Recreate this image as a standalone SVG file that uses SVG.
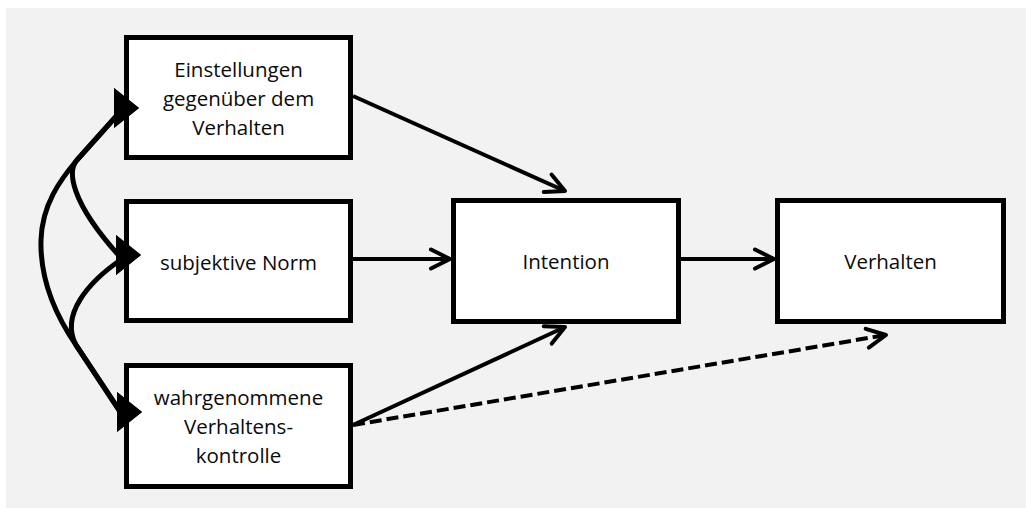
<svg xmlns="http://www.w3.org/2000/svg" width="1026" height="509" viewBox="0 0 1026 509">
  <style>
    .box { fill: #ffffff; stroke: #000000; stroke-width: 5; }
    .lbl { font-family: "Open Sans", "Liberation Sans", sans-serif; font-size: 20.5px; fill: #0a0a0a; text-anchor: middle; }
    .arrow { fill: none; stroke: #000000; stroke-width: 4; }
    .dash { stroke-dasharray: 12 5; }
    .curve { fill: none; stroke: #000000; stroke-width: 5; stroke-linejoin: round; }
  </style>
  <defs>
    <marker id="tri" markerUnits="userSpaceOnUse" orient="0" markerWidth="25" markerHeight="40" viewBox="0 0 25 40" refX="6" refY="24">
      <path d="M0,0 L25,20 L0,40 Z" fill="#000000"/>
    </marker>
    <marker id="chev" markerUnits="userSpaceOnUse" orient="auto" markerWidth="24" markerHeight="24" viewBox="-21 -12 24 24" refX="0" refY="0" overflow="visible">
      <path d="M-19,-9.5 L0,0 L-19,9.5" fill="none" stroke="#000000" stroke-width="4" stroke-linecap="round" stroke-linejoin="round"/>
    </marker>
  </defs>

  <rect x="6" y="8" width="1020" height="500" fill="#f2f2f2"/>

  <g id="node-einstellungen">
    <rect class="box" x="126.5" y="37.5" width="224" height="120"/>
    <text class="lbl" x="238.5" y="77">Einstellungen</text>
    <text class="lbl" x="238.5" y="106">gegenüber dem</text>
    <text class="lbl" x="238.5" y="135">Verhalten</text>
  </g>
  <g id="node-norm">
    <rect class="box" x="126.5" y="201.5" width="224" height="119"/>
    <text class="lbl" x="238.5" y="270">subjektive Norm</text>
  </g>
  <g id="node-kontrolle">
    <rect class="box" x="126.5" y="365.5" width="224" height="121"/>
    <text class="lbl" x="238.5" y="405">wahrgenommene</text>
    <text class="lbl" x="238.5" y="434">Verhaltens-</text>
    <text class="lbl" x="238.5" y="463">kontrolle</text>
  </g>
  <g id="node-intention">
    <rect class="box" x="453.5" y="200.5" width="225" height="121"/>
    <text class="lbl" x="566" y="269">Intention</text>
  </g>
  <g id="node-verhalten">
    <rect class="box" x="777.5" y="200.5" width="226" height="121"/>
    <text class="lbl" x="890.5" y="269">Verhalten</text>
  </g>

  <g id="connectors">
    <path class="arrow" d="M353,96 L565,191" marker-end="url(#chev)"/>
    <path class="arrow" d="M353,259 L450,259" marker-end="url(#chev)"/>
    <path class="arrow" d="M681,259 L774,259" marker-end="url(#chev)"/>
    <path class="arrow" d="M353,425 L565,327" marker-end="url(#chev)"/>
    <path class="arrow dash" d="M353,425 L886,335" marker-end="url(#chev)"/>
    <path class="curve" d="M120,112 L77,160 C68,170 68,200 122,259" marker-start="url(#tri)" marker-end="url(#tri)"/>
    <path class="curve" d="M120,112 L77,160 C60,180 42,205 41,240 C40,275 52,310 76,345 L123,416" marker-start="url(#tri)" marker-end="url(#tri)"/>
    <path class="curve" d="M122,259 C88,282 60,315 76,345 L123,416" marker-start="url(#tri)" marker-end="url(#tri)"/>
  </g>
</svg>
